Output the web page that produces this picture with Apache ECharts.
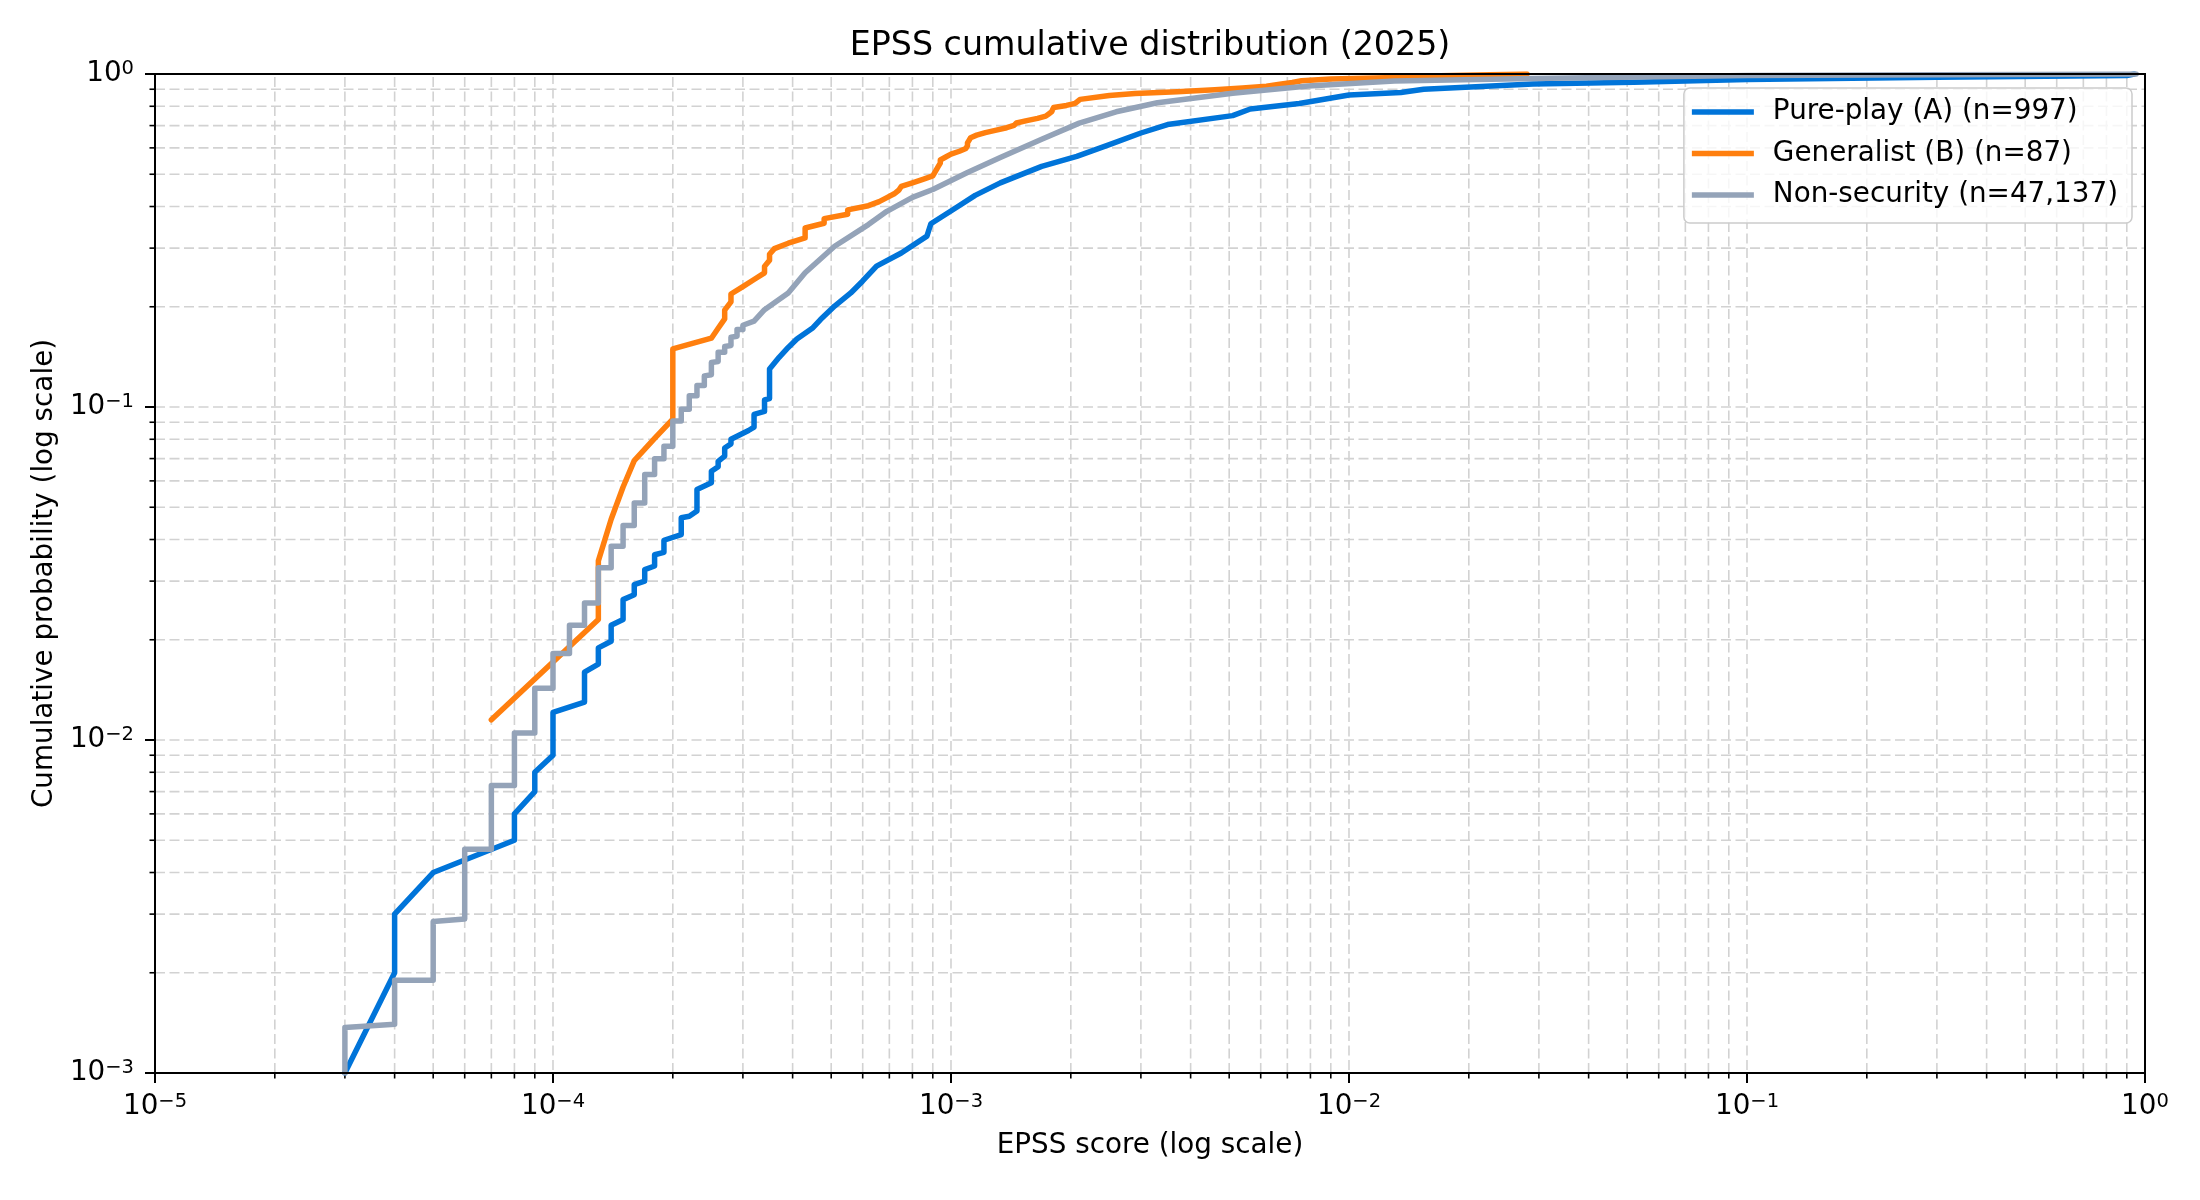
<!DOCTYPE html>
<html>
<head>
<meta charset="utf-8">
<title>EPSS cumulative distribution (2025)</title>
<script src="https://cdn.jsdelivr.net/npm/echarts@6/dist/echarts.min.js"></script>
<style>
  html, body { margin: 0; padding: 0; background: #fff; }
  #chart-container { width: 2200px; height: 1200px; }
</style>
</head>
<body>
<div id="chart-container"></div>
<script>
let dom = document.getElementById("chart-container");
let myChart = echarts.init(dom, null, { renderer: "canvas" });

const FONT = "DejaVu Sans";
const X_MIN = 1e-5, X_MAX = 1;
const Y_MIN = 1e-3, Y_MAX = 1;

const seriesNames = ["Pure-play (A) (n=997)", "Generalist (B) (n=87)", "Non-security (n=47,137)"];
const seriesColors = ["#0074D9", "#FF7F0E", "#94A3B8"];

// Pure-play (A): EPSS score vs cumulative probability (vertices)
const pureX = [
  3e-5, 4e-5, 4e-5, 5e-5, 8e-5, 8e-5, 9e-5, 9e-5, 1e-4, 1e-4,
  1.2e-4, 1.2e-4, 1.3e-4, 1.3e-4, 1.4e-4, 1.4e-4, 1.5e-4, 1.5e-4, 1.6e-4, 1.6e-4,
  1.7e-4, 1.7e-4, 1.8e-4, 1.8e-4, 1.9e-4, 1.9e-4, 2.1e-4, 2.1e-4, 2.2e-4, 2.3e-4,
  2.3e-4, 2.5e-4, 2.5e-4, 2.6e-4, 2.6e-4, 2.7e-4, 2.7e-4, 2.8e-4, 2.8e-4, 3.1e-4,
  3.2e-4, 3.2e-4, 3.4e-4, 3.4e-4, 3.5e-4, 3.5e-4, 3.7e-4, 3.9e-4, 4.1e-4, 4.5e-4,
  4.7e-4, 5.1e-4, 5.6e-4, 6.0e-4, 6.5e-4, 7.5e-4, 8.7e-4, 8.9e-4, 1.02e-3, 1.15e-3,
  1.33e-3, 1.69e-3, 2.07e-3, 2.5e-3, 3.0e-3, 3.5e-3, 5.1e-3, 5.65e-3, 7.5e-3, 1.0e-2,
  1.35e-2, 1.54e-2, 2.9e-2, 5.2e-2, 0.1, 0.3, 0.9, 0.94
];
const pureY = [
  0.001, 0.002, 0.003, 0.004, 0.005, 0.006, 0.007, 0.008, 0.009, 0.0121,
  0.013, 0.016, 0.0169, 0.0189, 0.0198, 0.0221, 0.023, 0.0264, 0.0273, 0.0293,
  0.030, 0.0325, 0.0333, 0.036, 0.0366, 0.0398, 0.0414, 0.0465, 0.047, 0.0487,
  0.0565, 0.0592, 0.0641, 0.0662, 0.0687, 0.0712, 0.0753, 0.0775, 0.080, 0.085,
  0.087, 0.095, 0.097, 0.105, 0.106, 0.130, 0.141, 0.151, 0.160, 0.173,
  0.183, 0.201, 0.220, 0.239, 0.265, 0.290, 0.326, 0.355, 0.394, 0.432,
  0.471, 0.528, 0.566, 0.614, 0.665, 0.705, 0.750, 0.785, 0.815, 0.865,
  0.880, 0.900, 0.933, 0.944, 0.962, 0.977, 0.990, 1.0
];

// Generalist (B)
const generalistX = [
  7e-5, 1.3e-4, 1.3e-4, 1.4e-4, 1.5e-4, 1.6e-4, 1.8e-4, 2.0e-4, 2.0e-4, 2.0e-4,
  2.0e-4, 2.0e-4, 2.0e-4, 2.5e-4, 2.6e-4, 2.7e-4, 2.7e-4, 2.8e-4, 2.8e-4, 3.0e-4,
  3.2e-4, 3.4e-4, 3.4e-4, 3.5e-4, 3.5e-4, 3.6e-4, 3.9e-4, 4.3e-4, 4.3e-4, 4.3e-4,
  4.8e-4, 4.8e-4, 5.5e-4, 5.5e-4, 6.2e-4, 6.6e-4, 6.9e-4, 7.2e-4, 7.4e-4, 7.5e-4,
  8.0e-4, 8.5e-4, 9.0e-4, 9.1e-4, 9.2e-4, 9.3e-4, 9.4e-4, 9.4e-4, 9.7e-4, 1.0e-3,
  1.05e-3, 1.09e-3, 1.1e-3, 1.1e-3, 1.11e-3, 1.12e-3, 1.16e-3, 1.22e-3, 1.3e-3, 1.38e-3,
  1.44e-3, 1.46e-3, 1.55e-3, 1.65e-3, 1.73e-3, 1.76e-3, 1.79e-3, 1.8e-3, 1.81e-3, 1.95e-3,
  2.05e-3, 2.08e-3, 2.11e-3, 2.13e-3, 2.5e-3, 2.9e-3, 3.7e-3, 4.6e-3, 5.4e-3, 6.2e-3,
  6.7e-3, 7.2e-3, 7.6e-3, 9.0e-3, 1.4e-2, 1.7e-2, 2.8e-2
];
const generalistY = [
  0.0115, 0.0230, 0.0345, 0.0460, 0.0575, 0.0690, 0.0805, 0.0920, 0.1034, 0.1149,
  0.1264, 0.1379, 0.1494, 0.1609, 0.1724, 0.1839, 0.1954, 0.2069, 0.2184, 0.2299,
  0.2414, 0.2529, 0.2644, 0.2759, 0.2874, 0.2989, 0.3103, 0.3218, 0.3333, 0.3448,
  0.3563, 0.3678, 0.3793, 0.3908, 0.4023, 0.4138, 0.4253, 0.4368, 0.4483, 0.4598,
  0.4713, 0.4828, 0.4943, 0.5057, 0.5172, 0.5287, 0.5402, 0.5517, 0.5632, 0.5747,
  0.5862, 0.5977, 0.6092, 0.6207, 0.6322, 0.6437, 0.6552, 0.6667, 0.6782, 0.6897,
  0.7011, 0.7126, 0.7241, 0.7356, 0.7471, 0.7586, 0.7701, 0.7816, 0.7931, 0.8046,
  0.8161, 0.8276, 0.8391, 0.8506, 0.8621, 0.8736, 0.8851, 0.8966, 0.9080, 0.9195,
  0.9310, 0.9425, 0.9540, 0.9655, 0.9770, 0.9885, 1.0
];

// Non-security
const nonSecX = [
  3e-5, 3e-5, 4e-5, 4e-5, 5e-5, 5e-5, 6e-5, 6e-5, 7e-5, 7e-5,
  8e-5, 8e-5, 9e-5, 9e-5, 1e-4, 1e-4, 1.1e-4, 1.1e-4, 1.2e-4, 1.2e-4,
  1.3e-4, 1.3e-4, 1.4e-4, 1.4e-4, 1.5e-4, 1.5e-4, 1.6e-4, 1.6e-4, 1.7e-4, 1.7e-4,
  1.8e-4, 1.8e-4, 1.9e-4, 1.9e-4, 2e-4, 2e-4, 2.1e-4, 2.1e-4, 2.2e-4, 2.2e-4,
  2.3e-4, 2.3e-4, 2.4e-4, 2.4e-4, 2.5e-4, 2.5e-4, 2.6e-4, 2.6e-4, 2.7e-4, 2.7e-4,
  2.8e-4, 2.8e-4, 2.9e-4, 2.9e-4, 3.0e-4, 3.0e-4, 3.2e-4, 3.4e-4, 3.9e-4, 4.3e-4,
  5.1e-4, 6.2e-4, 6.9e-4, 8.0e-4, 9.0e-4, 1.1e-3, 1.33e-3, 1.69e-3, 2.1e-3, 2.6e-3,
  3.3e-3, 5.1e-3, 7.9e-3, 1.3e-2, 2.9e-2, 0.1, 0.95
];
const nonSecY = [
  0.001, 0.00137, 0.0014, 0.0019, 0.0019, 0.00285, 0.0029, 0.0047, 0.0047, 0.0073,
  0.0073, 0.0105, 0.0105, 0.0143, 0.0143, 0.0182, 0.0182, 0.0221, 0.0221, 0.0258,
  0.0258, 0.0329, 0.0329, 0.0382, 0.0382, 0.0441, 0.0441, 0.0515, 0.0515, 0.0627,
  0.0627, 0.0699, 0.0699, 0.0762, 0.0762, 0.0908, 0.0908, 0.0985, 0.0985, 0.108,
  0.108, 0.116, 0.116, 0.124, 0.125, 0.136, 0.137, 0.146, 0.146, 0.152,
  0.153, 0.162, 0.163, 0.171, 0.171, 0.176, 0.181, 0.196, 0.220, 0.253,
  0.304, 0.353, 0.387, 0.426, 0.450, 0.506, 0.561, 0.637, 0.712, 0.770,
  0.820, 0.875, 0.920, 0.952, 0.970, 0.990, 1.0
];

// minor tick positions (2..9 x each decade)
const xMinorTicks = [
  2e-5, 3e-5, 4e-5, 5e-5, 6e-5, 7e-5, 8e-5, 9e-5,
  2e-4, 3e-4, 4e-4, 5e-4, 6e-4, 7e-4, 8e-4, 9e-4,
  2e-3, 3e-3, 4e-3, 5e-3, 6e-3, 7e-3, 8e-3, 9e-3,
  0.02, 0.03, 0.04, 0.05, 0.06, 0.07, 0.08, 0.09,
  0.2, 0.3, 0.4, 0.5, 0.6, 0.7, 0.8, 0.9
];
const yMinorTicks = [
  2e-3, 3e-3, 4e-3, 5e-3, 6e-3, 7e-3, 8e-3, 9e-3,
  0.02, 0.03, 0.04, 0.05, 0.06, 0.07, 0.08, 0.09,
  0.2, 0.3, 0.4, 0.5, 0.6, 0.7, 0.8, 0.9
];

function zip(xs, ys) {
  return xs.map((x, i) => [x, ys[i]]);
}

function powerLabel(value) {
  const exp = Math.round(Math.log10(value));
  const txt = exp < 0 ? "\u2212" + (-exp) : String(exp);
  return "{b|10}{s|" + txt + "}";
}

const labelRich = {
  b: { fontFamily: FONT, fontSize: 27.8, lineHeight: 30, color: "#000" },
  s: { fontFamily: FONT, fontSize: 19.5, lineHeight: 18, verticalAlign: "top", color: "#000" },
};

const gridStyle = { stroke: "#d2d2d2", lineWidth: 1.6, lineDash: [10, 4.5] };
const tickStyle = { stroke: "#000", lineWidth: 1.6 };

// minor gridlines + minor ticks, placed through the axes
function minorXItem(params, api) {
  const v = api.value(0);
  const b = api.coord([v, Y_MIN]);
  const t = api.coord([v, Y_MAX]);
  return {
    type: "group",
    children: [
      { type: "line", shape: { x1: b[0], y1: b[1], x2: t[0], y2: t[1] }, style: gridStyle },
      { type: "line", shape: { x1: b[0], y1: b[1], x2: b[0], y2: b[1] + 5.5 }, style: tickStyle },
    ],
  };
}
function minorYItem(params, api) {
  const v = api.value(1);
  const l = api.coord([X_MIN, v]);
  const r = api.coord([X_MAX, v]);
  return {
    type: "group",
    children: [
      { type: "line", shape: { x1: l[0], y1: l[1], x2: r[0], y2: r[1] }, style: gridStyle },
      { type: "line", shape: { x1: l[0] - 5.5, y1: l[1], x2: l[0], y2: l[1] }, style: tickStyle },
    ],
  };
}

function curve(name, color, data) {
  return {
    name: name,
    type: "line",
    data: data,
    symbol: "none",
    showSymbol: false,
    smooth: false,
    z: 3,
    lineStyle: { color: color, width: 5.5, cap: "round", join: "round" },
    itemStyle: { color: color },
    emphasis: { disabled: true },
  };
}

const majorSplit = {
  show: true,
  showMinLine: false,
  showMaxLine: false,
  lineStyle: { color: "#d2d2d2", width: 1.6, type: [10, 4.5] },
};

let option = {
  animation: false,
  backgroundColor: "#fff",
  title: {
    text: "EPSS cumulative distribution (2025)",
    left: 1145,
    top: 41,
    textAlign: "center",
    textVerticalAlign: "middle",
    textStyle: { fontFamily: FONT, fontSize: 33.3, fontWeight: "normal", color: "#000" },
  },
  legend: {
    data: seriesNames,
    orient: "vertical",
    right: 68,
    top: 88,
    padding: [10, 14, 14, 8],
    itemGap: 13.5,
    itemWidth: 62,
    itemHeight: 5.5,
    icon: "rect",
    backgroundColor: "rgba(255,255,255,0.8)",
    borderColor: "#cccccc",
    borderWidth: 1.5,
    borderRadius: 6,
    textStyle: {
      fontFamily: FONT,
      fontSize: 27.8,
      lineHeight: 28,
      color: "#000",
      padding: [0, 0, 0, 14],
    },
  },
  grid: {
    left: 155,
    right: 55,
    top: 74,
    bottom: 127,
    show: true,
    z: 5,
    borderColor: "#000",
    borderWidth: 2,
    containLabel: false,
    outerBoundsMode: "none",
  },
  xAxis: {
    type: "log",
    logBase: 10,
    min: X_MIN,
    max: X_MAX,
    name: "EPSS score (log scale)",
    nameLocation: "middle",
    nameGap: 59,
    nameTextStyle: { fontFamily: FONT, fontSize: 27.8, color: "#000" },
    axisLine: { lineStyle: { color: "#000", width: 2 } },
    axisTick: { show: true, length: 10, lineStyle: { color: "#000", width: 2 } },
    axisLabel: { margin: 19, formatter: powerLabel, rich: labelRich },
    splitLine: majorSplit,
    minorTick: { show: false },
  },
  yAxis: {
    type: "log",
    logBase: 10,
    min: Y_MIN,
    max: Y_MAX,
    name: "Cumulative probability (log scale)",
    nameLocation: "middle",
    nameGap: 95,
    nameTextStyle: { fontFamily: FONT, fontSize: 27.8, color: "#000" },
    axisLine: { lineStyle: { color: "#000", width: 2 } },
    axisTick: { show: true, length: 10, lineStyle: { color: "#000", width: 2 } },
    axisLabel: { margin: 21, formatter: powerLabel, rich: labelRich },
    splitLine: majorSplit,
  },
  series: [
    {
      type: "custom",
      silent: true,
      clip: false,
      z: 1,
      renderItem: minorXItem,
      data: xMinorTicks.map((v) => [v, Y_MIN]),
    },
    {
      type: "custom",
      silent: true,
      clip: false,
      z: 1,
      renderItem: minorYItem,
      data: yMinorTicks.map((v) => [X_MIN, v]),
    },
    curve(seriesNames[0], seriesColors[0], zip(pureX, pureY)),
    curve(seriesNames[1], seriesColors[1], zip(generalistX, generalistY)),
    curve(seriesNames[2], seriesColors[2], zip(nonSecX, nonSecY)),
  ],
};

if (option && typeof option === "object") {
  myChart.setOption(option);
}

window.addEventListener("resize", myChart.resize);
</script>
</body>
</html>
